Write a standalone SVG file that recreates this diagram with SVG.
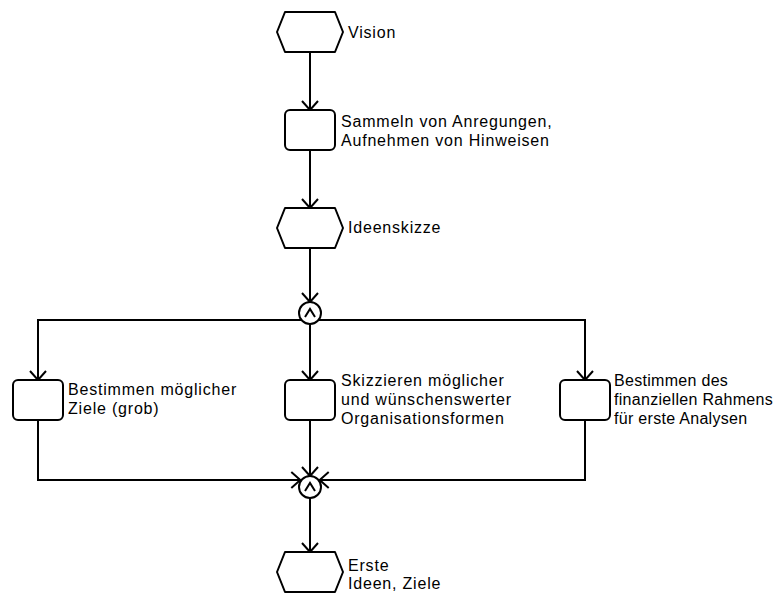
<svg xmlns="http://www.w3.org/2000/svg" width="780" height="594" viewBox="0 0 780 594">
  <style>
    .shape { fill: #fff; stroke: #000; stroke-width: 2; stroke-linejoin: round; }
    .conn { fill: none; stroke: #000; stroke-width: 2; }
    .op { fill: #fff; stroke: #000; stroke-width: 2; }
    .sym { fill: none; stroke: #000; stroke-width: 2; }
    .lbl { font-family: "Liberation Sans", Arial, sans-serif; font-size: 16px; letter-spacing: 0.8px; fill: #000; }
    .tight { letter-spacing: 0.3px; }
  </style>
  <defs>
    <marker id="chev" viewBox="-12 -10 14 20" markerWidth="14" markerHeight="20" refX="0" refY="0" orient="auto" markerUnits="userSpaceOnUse">
      <path d="M-9,-8 L0,0 L-9,8" fill="none" stroke="#000" stroke-width="2"/>
    </marker>
  </defs>

  <!-- connectors -->
  <g id="connectors">
    <line class="conn" x1="310" y1="52" x2="310" y2="110" marker-end="url(#chev)"/>
    <line class="conn" x1="310" y1="150" x2="310" y2="208" marker-end="url(#chev)"/>
    <line class="conn" x1="310" y1="248" x2="310" y2="302" marker-end="url(#chev)"/>
    <!-- split -->
    <polyline class="conn" points="310,320 38,320 38,380" marker-end="url(#chev)"/>
    <polyline class="conn" points="310,320 585,320 585,380" marker-end="url(#chev)"/>
    <line class="conn" x1="310" y1="324" x2="310" y2="380" marker-end="url(#chev)"/>
    <!-- join -->
    <polyline class="conn" points="38,420 38,480 300.3,480" marker-end="url(#chev)"/>
    <polyline class="conn" points="585,420 585,480 319.7,480" marker-end="url(#chev)"/>
    <line class="conn" x1="310" y1="420" x2="310" y2="476" marker-end="url(#chev)"/>
    <line class="conn" x1="310" y1="498" x2="310" y2="552" marker-end="url(#chev)"/>
  </g>

  <!-- events -->
  <g id="vision">
    <polygon class="shape" points="285,12 335,12 343,32 335,52 285,52 277,32"/>
    <text class="lbl" x="348" y="38">Vision</text>
  </g>
  <g id="ideenskizze">
    <polygon class="shape" points="285,208 335,208 343,228 335,248 285,248 277,228"/>
    <text class="lbl" x="348" y="233">Ideenskizze</text>
  </g>
  <g id="erste-ideen">
    <polygon class="shape" points="285,552 335,552 343,572 335,592 285,592 277,572"/>
    <text class="lbl" x="348" y="571">Erste</text>
    <text class="lbl" x="348" y="589">Ideen, Ziele</text>
  </g>

  <!-- functions -->
  <g id="sammeln">
    <rect class="shape" x="285" y="110" width="50" height="40" rx="5"/>
    <text class="lbl" x="341" y="127">Sammeln von Anregungen,</text>
    <text class="lbl" x="341" y="146">Aufnehmen von Hinweisen</text>
  </g>
  <g id="ziele">
    <rect class="shape" x="13" y="380" width="50" height="40" rx="5"/>
    <text class="lbl" x="68" y="395">Bestimmen möglicher</text>
    <text class="lbl" x="68" y="414">Ziele (grob)</text>
  </g>
  <g id="organisationsformen">
    <rect class="shape" x="285" y="380" width="50" height="40" rx="5"/>
    <text class="lbl" x="341" y="386">Skizzieren möglicher</text>
    <text class="lbl" x="341" y="405">und wünschenswerter</text>
    <text class="lbl" x="341" y="424">Organisationsformen</text>
  </g>
  <g id="rahmen">
    <rect class="shape" x="560" y="380" width="50" height="40" rx="5"/>
    <text class="lbl tight" x="614" y="386">Bestimmen des</text>
    <text class="lbl tight" x="614" y="405">finanziellen Rahmens</text>
    <text class="lbl tight" x="614" y="424">für erste Analysen</text>
  </g>

  <!-- AND operators -->
  <g id="and-split">
    <circle class="op" cx="310" cy="313" r="11"/>
    <polyline class="sym" points="305,317 310,309 315,317"/>
  </g>
  <g id="and-join">
    <circle class="op" cx="310" cy="487" r="11"/>
    <polyline class="sym" points="305,491 310,483 315,491"/>
  </g>
</svg>
